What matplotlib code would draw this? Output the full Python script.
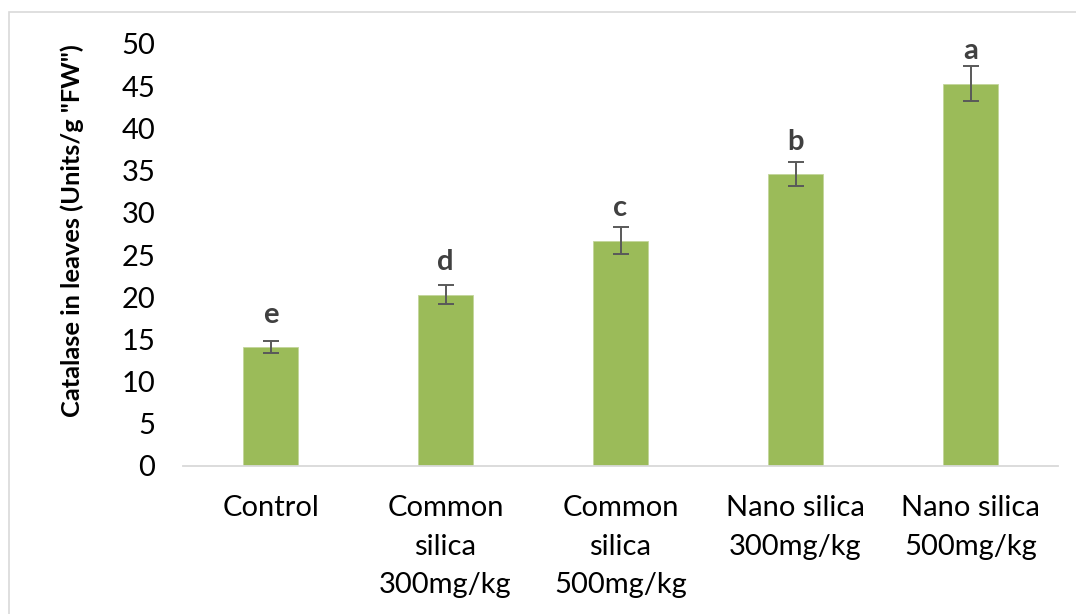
import matplotlib
matplotlib.use("Agg")
import matplotlib.pyplot as plt
from matplotlib.patches import Rectangle

# Catalase activity per treatment
categories = ["Control", "Common\nsilica\n300mg/kg", "Common\nsilica\n500mg/kg",
              "Nano silica\n300mg/kg", "Nano silica\n500mg/kg"]
catalase = [14.1, 20.3, 26.7, 34.6, 45.3]
errors = [0.7, 1.1, 1.6, 1.4, 2.1]
letters = ["e", "d", "c", "b", "a"]
yticks = [0, 5, 10, 15, 20, 25, 30, 35, 40, 45, 50]

plt.rcParams["font.family"] = ["Lato", "DejaVu Sans"]

fig = plt.figure(figsize=(10.76, 6.14), dpi=100)
ax = fig.add_axes([183 / 1076, 1 - 466 / 614, (1058 - 183) / 1076, (466 - 44) / 614])

# light frame around the chart area
fig.patches.append(Rectangle((9 / 1076, -0.01), 1.1, 1 - 12 / 614 + 0.01,
                             transform=fig.transFigure, fill=False,
                             edgecolor="#d9d9d9", linewidth=1.2))

x = list(range(len(categories)))
ax.bar(x, catalase, width=0.315, color="#9bbb59", edgecolor="#c3d69b", linewidth=0.6, zorder=2)
ax.errorbar(x, catalase, yerr=errors, fmt="none", ecolor="#595959",
            elinewidth=1.4, capsize=6, capthick=1.4, zorder=3)

for xi, v, s in zip(x, catalase, letters):
    ax.annotate(s, (xi, v), xytext=(0, 14), textcoords="offset points",
                ha="center", va="bottom", fontsize=21, fontweight="bold", color="#404040")

ax.set_xlim(-0.5, 4.5)
ax.set_ylim(0, 50)
ax.set_yticks(yticks)
ax.set_yticklabels([str(t) for t in yticks])
ax.set_xticks(x)
ax.set_xticklabels(categories, fontsize=21, linespacing=1.6)
ax.tick_params(axis="y", length=0, pad=20, labelsize=21)
ax.tick_params(axis="x", length=0, pad=21)
for side in ["top", "right", "left"]:
    ax.spines[side].set_visible(False)
ax.spines["bottom"].set_color("#d9d9d9")
ax.spines["bottom"].set_linewidth(1.3)

ax.set_ylabel('Catalase in leaves (Units/g "FW")', fontsize=18.3, fontweight="bold")
ax.yaxis.set_label_coords(-0.113, 0.559)

fig.savefig("out.png", dpi=100)
